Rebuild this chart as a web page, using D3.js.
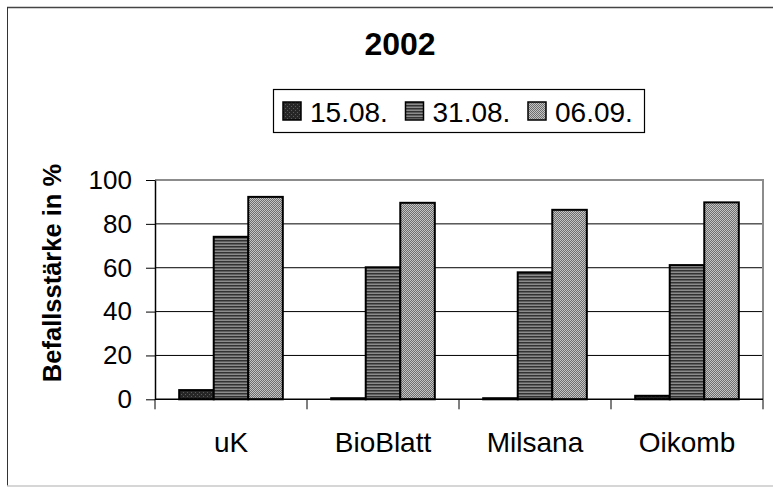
<!DOCTYPE html>
<html>
<head>
<meta charset="utf-8">
<script src="https://cdn.jsdelivr.net/npm/d3@7"></script>
<style>
  html, body { margin: 0; padding: 0; background: #fff; }
  svg { display: block; font-family: "Liberation Sans", Arial, sans-serif; }
</style>
</head>
<body>
<div id="chart"></div>
<script>
var width = 773,
	height = 488;

// data
var categories = ['uK', 'BioBlatt', 'Milsana', 'Oikomb'];
var series = ['15.08.', '31.08.', '06.09.'];
var v1508 = [4.2, 0.5, 0.5, 1.6];
var v3108 = [74.1, 60.2, 57.9, 61.2];
var v0609 = [92.3, 89.6, 86.4, 89.8];
var yTicks = [0, 20, 40, 60, 80, 100];
var title = '2002',
	yTitle = 'Befallsstärke in %';

var values = [v1508, v3108, v0609];

var plot = { left: 155, right: 763, top: 180, bottom: 399.3 };

var svg = d3.select('#chart').append('svg')
	.attr('width', width)
	.attr('height', height);

// fill patterns
var defs = svg.append('defs');

var p1 = defs.append('pattern').attr('id', 'pat0')
	.attr('patternUnits', 'userSpaceOnUse').attr('width', 4).attr('height', 4);
p1.append('rect').attr('width', 4).attr('height', 4).attr('fill', '#262626');
p1.append('rect').attr('x', 0).attr('y', 0).attr('width', 1).attr('height', 1).attr('fill', '#5a5a5a');
p1.append('rect').attr('x', 2).attr('y', 2).attr('width', 1).attr('height', 1).attr('fill', '#5a5a5a');

var p2 = defs.append('pattern').attr('id', 'pat1')
	.attr('patternUnits', 'userSpaceOnUse').attr('width', 4).attr('height', 3);
p2.append('rect').attr('width', 4).attr('height', 3).attr('fill', '#8c8c8c');
p2.append('rect').attr('y', 0).attr('width', 4).attr('height', 1.5).attr('fill', '#333');

var p3 = defs.append('pattern').attr('id', 'pat2')
	.attr('patternUnits', 'userSpaceOnUse').attr('width', 2).attr('height', 2);
p3.append('rect').attr('width', 2).attr('height', 2).attr('fill', '#c4c4c4');
p3.append('rect').attr('x', 0).attr('y', 0).attr('width', 1).attr('height', 1).attr('fill', '#6e6e6e');
p3.append('rect').attr('x', 1).attr('y', 1).attr('width', 1).attr('height', 1).attr('fill', '#6e6e6e');

// outer frame
svg.append('line').attr('x1', 7).attr('y1', 7.5).attr('x2', 773).attr('y2', 7.5)
	.attr('stroke', '#444').attr('stroke-width', 1.5);
svg.append('line').attr('x1', 7.5).attr('y1', 7).attr('x2', 7.5).attr('y2', 486)
	.attr('stroke', '#333').attr('stroke-width', 1);
svg.append('line').attr('x1', 7).attr('y1', 486).attr('x2', 773).attr('y2', 486)
	.attr('stroke', '#c8c8c8').attr('stroke-width', 1.5);

// scales
var x0 = d3.scaleBand()
	.domain(categories)
	.range([plot.left, plot.right])
	.paddingInner(0)
	.paddingOuter(0);

var x1 = d3.scaleBand()
	.domain(series)
	.range([0, x0.bandwidth()])
	.paddingInner(0)
	.paddingOuter(0.7);

var y = d3.scaleLinear()
	.domain([0, 100])
	.range([plot.bottom, plot.top]);

// gridlines
svg.append('g')
	.selectAll('line.grid')
	.data(yTicks.filter(d => d > 0 && d < 100))
	.enter()
	.append('line')
	.attr('x1', plot.left).attr('x2', plot.right)
	.attr('y1', d => y(d)).attr('y2', d => y(d))
	.attr('stroke', '#000').attr('stroke-width', 1);

// plot top and right border (gray)
svg.append('path')
	.attr('d', 'M' + plot.left + ',' + y(100) + 'H' + plot.right + 'V' + plot.bottom)
	.attr('fill', 'none').attr('stroke', '#8c8c8c').attr('stroke-width', 2);

// bars
var groups = svg.append('g')
	.selectAll('g.cat')
	.data(categories)
	.enter()
	.append('g')
	.attr('transform', d => 'translate(' + x0(d) + ',0)');

groups.selectAll('rect')
	.data((d, i) => series.map((s, j) => ({ s: s, j: j, v: values[j][i] })))
	.enter()
	.append('rect')
	.attr('x', d => x1(d.s))
	.attr('width', x1.bandwidth())
	.attr('y', d => y(d.v))
	.attr('height', d => y(0) - y(d.v))
	.attr('fill', d => 'url(#pat' + d.j + ')')
	.attr('stroke', '#000')
	.attr('stroke-width', 2);

// y axis
var yAxis = svg.append('g')
	.attr('transform', 'translate(' + plot.left + ',0)')
	.call(d3.axisLeft(y).tickValues(yTicks).tickSize(9).tickPadding(14).tickSizeOuter(0));
yAxis.select('.domain').attr('stroke', '#000').attr('stroke-width', 1.5);
yAxis.selectAll('.tick line').attr('stroke', '#000');
yAxis.selectAll('.tick text')
	.attr('font-size', 26)
	.attr('font-family', '"Liberation Sans", Arial, sans-serif')
	.attr('fill', '#000');

// x axis line and ticks at band edges
svg.append('line')
	.attr('x1', plot.left).attr('x2', plot.right)
	.attr('y1', y(0)).attr('y2', y(0))
	.attr('stroke', '#000').attr('stroke-width', 1.5);

var edges = categories.map(d => x0(d)).concat([x0.range()[1]]);
svg.append('g')
	.selectAll('line.xtick')
	.data(edges)
	.enter()
	.append('line')
	.attr('x1', d => d).attr('x2', d => d)
	.attr('y1', y(0)).attr('y2', y(0) + 10)
	.attr('stroke', '#000').attr('stroke-width', 1);

svg.append('g')
	.selectAll('text.cat')
	.data(categories)
	.enter()
	.append('text')
	.attr('x', d => x0(d) + x0.bandwidth() / 2)
	.attr('y', 452)
	.attr('text-anchor', 'middle')
	.attr('font-size', 28)
	.text(d => d);

// y title
svg.append('text')
	.attr('transform', 'translate(61,273) rotate(-90)')
	.attr('text-anchor', 'middle')
	.attr('font-size', 25.5)
	.attr('font-weight', 'bold')
	.text(yTitle);

// title
svg.append('text')
	.attr('x', 400)
	.attr('y', 55)
	.attr('text-anchor', 'middle')
	.attr('font-size', 32)
	.attr('font-weight', 'bold')
	.text(title);

// legend
var legend = svg.append('g');
legend.append('rect')
	.attr('x', 273.5).attr('y', 89.5)
	.attr('width', 371).attr('height', 43)
	.attr('fill', '#fff').attr('stroke', '#000').attr('stroke-width', 1.2);

var items = legend.selectAll('g.item')
	.data(series)
	.enter()
	.append('g')
	.attr('transform', (d, i) => 'translate(' + (283 + i * 122.5) + ',102)');

items.append('rect')
	.attr('width', 18).attr('height', 18)
	.attr('fill', (d, i) => 'url(#pat' + i + ')')
	.attr('stroke', '#000').attr('stroke-width', 1.5);

items.append('text')
	.attr('x', 27)
	.attr('y', 19.5)
	.attr('font-size', 28)
	.text(d => d);
</script>
</body>
</html>
